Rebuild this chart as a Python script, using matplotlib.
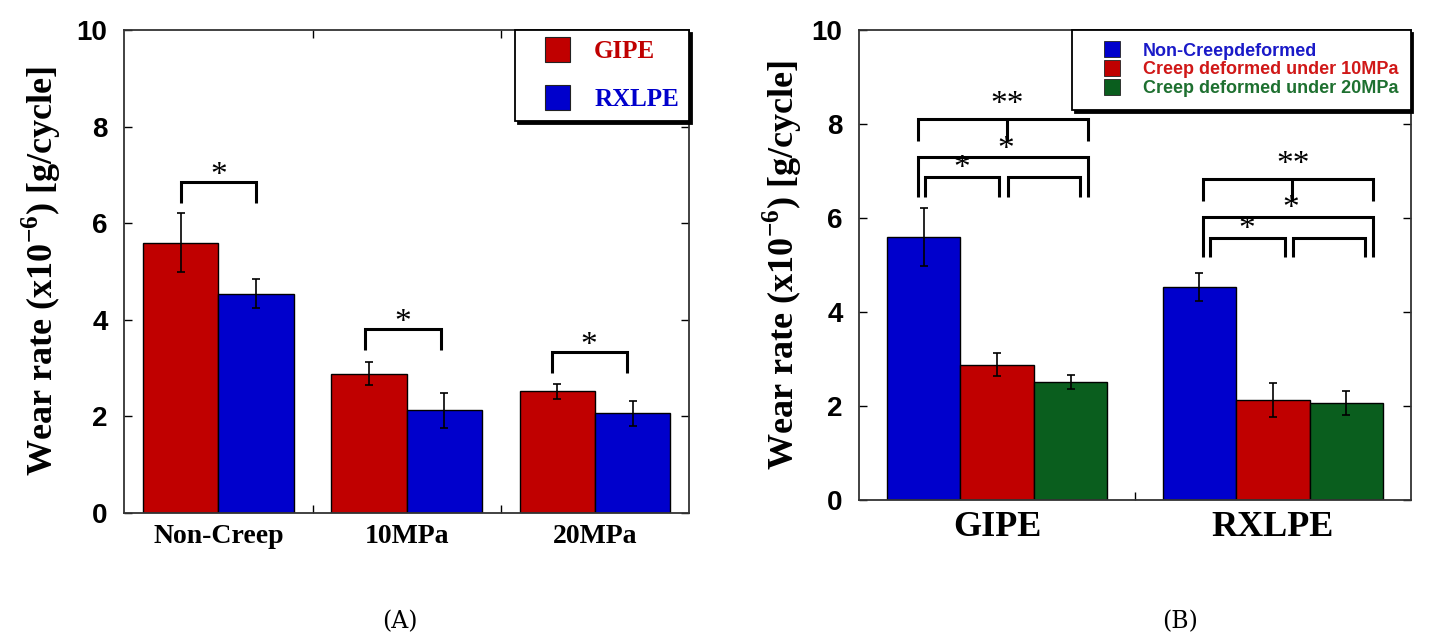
import matplotlib
matplotlib.use("Agg")
import matplotlib.pyplot as plt
from matplotlib.lines import Line2D
import numpy as np

# wear rate (x10^-6 g/cycle)
conditions = ["Non-Creep", "10MPa", "20MPa"]
materials = ["GIPE", "RXLPE"]
gipe = [5.60, 2.88, 2.52]
gipe_err = [0.62, 0.24, 0.15]
rxlpe = [4.54, 2.13, 2.06]
rxlpe_err = [0.30, 0.36, 0.25]

series_b = ["Non-Creepdeformed", "Creep deformed under 10MPa", "Creep deformed under 20MPa"]

# significance brackets, panel A (bracket height, per condition)
sig_a_top = [6.86, 3.81, 3.34]
sig_a_shift = [0.0, -0.02, -0.03]
# panel B, per material: leg bottom, lower, middle, top bracket, top leg bottom
sig_b_base = [6.44, 5.16]
sig_b_low = [6.87, 5.58]
sig_b_mid = [7.29, 6.03]
sig_b_top = [8.11, 6.83]
sig_b_topleg = [7.64, 6.36]
sig_b_shift = [0.0, 0.035]

RED = "#C00000"
BLUE = "#0000CC"
GREEN = "#0A5E1E"

SERIF = "Liberation Serif"
SANS = "Liberation Sans"

plt.rcParams["mathtext.fontset"] = "custom"
plt.rcParams["mathtext.rm"] = "Liberation Serif"
plt.rcParams["mathtext.bf"] = "Liberation Serif:bold"

fig = plt.figure(figsize=(14.3, 6.43), dpi=100)
axA = fig.add_axes([0.0869, 0.2022, 0.3949, 0.7511])
axB = fig.add_axes([0.6009, 0.2224, 0.3856, 0.7309])

ylabel = r"Wear rate (x10$^{\mathbf{{-}6}}$) [g/cycle]"


def style_axes(ax, xmax, minor):
    ax.set_ylim(0, 10)
    ax.set_xlim(0, xmax)
    ax.set_yticks(np.arange(0, 11, 2))
    ax.set_xticks(minor, minor=True)
    ax.tick_params(axis="y", which="major", direction="in", length=6, width=1,
                   right=True, left=True, pad=12, labelsize=20)
    ax.tick_params(axis="x", which="major", length=0, pad=8)
    ax.tick_params(axis="x", which="minor", direction="in", length=6, width=1,
                   top=True, bottom=True)
    for lab in ax.get_yticklabels():
        lab.set_fontfamily(SANS)
        lab.set_fontweight("bold")
    for sp in ax.spines.values():
        sp.set_linewidth(1.3)
        sp.set_color("#333333")


def bracket(ax, x1, x2, y, ybot, lw=2.2):
    ax.plot([x1, x1, x2, x2], [ybot, y, y, ybot], color="black", lw=lw,
            solid_joinstyle="miter", solid_capstyle="butt", zorder=5)


def star(ax, x, y, s, size=24):
    ax.text(x, y, s, ha="center", va="center", fontsize=size, family=SERIF,
            zorder=6)


# ---------------- panel A ----------------
xa = np.arange(len(conditions)) + 0.5
w = 0.4
axA.bar(xa - w / 2, gipe, w, color=RED, edgecolor="black", lw=1, label="GIPE")
axA.bar(xa + w / 2, rxlpe, w, color=BLUE, edgecolor="black", lw=1, label="RXLPE")
axA.errorbar(xa - w / 2, gipe, yerr=gipe_err, fmt="none", ecolor="black",
             elinewidth=1.2, capsize=3, capthick=1.2)
axA.errorbar(xa + w / 2, rxlpe, yerr=rxlpe_err, fmt="none", ecolor="black",
             elinewidth=1.2, capsize=3, capthick=1.2)
style_axes(axA, 3, [1, 2])
axA.set_xticks(xa)
axA.set_xticklabels(conditions, fontfamily=SERIF, fontweight="bold", fontsize=20)
axA.set_ylabel(ylabel, fontfamily=SERIF, fontweight="bold", fontsize=26, va="center")
axA.yaxis.set_label_coords(-0.1475, 0.5)

for i in range(len(conditions)):
    x1 = xa[i] - w / 2 + sig_a_shift[i]
    x2 = xa[i] + w / 2 + sig_a_shift[i]
    bracket(axA, x1, x2, sig_a_top[i], sig_a_top[i] - 0.44)
    star(axA, (x1 + x2) / 2, sig_a_top[i] + 0.13, "*")

hA = [Line2D([], [], ls="none", marker="s", markersize=18, markerfacecolor=c,
             markeredgecolor="#222222", markeredgewidth=0.8) for c in (RED, BLUE)]
legA = axA.legend(hA, materials, loc="upper right", bbox_to_anchor=(1, 1),
                  borderaxespad=0, fancybox=False, edgecolor="black",
                  framealpha=1, shadow={"color": "black", "alpha": 1},
                  prop={"family": SERIF, "weight": "bold", "size": 18},
                  handlelength=2.5, handletextpad=0.25, labelspacing=1.0,
                  borderpad=0.4)
legA.get_frame().set_linewidth(1.3)
for t, c in zip(legA.get_texts(), (RED, BLUE)):
    t.set_color(c)

# ---------------- panel B ----------------
xb = np.arange(len(materials)) + 0.5
wb = 0.8 / 3
vals_b = [[gipe[k], rxlpe[k]] for k in range(3)]
errs_b = [[gipe_err[k], rxlpe_err[k]] for k in range(3)]
cols_b = [BLUE, RED, GREEN]
for k in range(3):
    pos = xb + (k - 1) * wb
    axB.bar(pos, vals_b[k], wb, color=cols_b[k], edgecolor="black", lw=1,
            label=series_b[k])
    axB.errorbar(pos, vals_b[k], yerr=errs_b[k], fmt="none", ecolor="black",
                 elinewidth=1.2, capsize=3, capthick=1.2)
style_axes(axB, 2, [1])
axB.set_xticks(xb)
axB.set_xticklabels(materials, fontfamily=SERIF, fontweight="bold", fontsize=26)
axB.set_ylabel(ylabel, fontfamily=SERIF, fontweight="bold", fontsize=26, va="center")
axB.yaxis.set_label_coords(-0.140, 0.5)

for g in range(len(materials)):
    s = sig_b_shift[g]
    c0 = xb[g] - wb + s
    c1 = xb[g] + s
    c2 = xb[g] + wb + s
    outL, outR = c0 - 0.02, c2 + 0.063
    # lower pair
    bracket(axB, c0 + 0.005, c1 + 0.008, sig_b_low[g], sig_b_base[g])
    bracket(axB, c1 + 0.038, c2 + 0.033, sig_b_low[g], sig_b_base[g])
    star(axB, (c0 + c1) / 2 + 0.005, sig_b_low[g] + 0.18, "*")
    # middle
    bracket(axB, outL, outR, sig_b_mid[g], sig_b_base[g])
    star(axB, c1 + 0.03, sig_b_mid[g] + 0.17, "*")
    # top with stem
    bracket(axB, outL, outR, sig_b_top[g], sig_b_topleg[g])
    axB.plot([c1 + 0.035, c1 + 0.035], [sig_b_top[g], sig_b_topleg[g]],
             color="black", lw=2.2, solid_capstyle="butt", zorder=5)
    star(axB, c1 + 0.038, sig_b_top[g] + 0.3, "**")

hB = [Line2D([], [], ls="none", marker="s", markersize=11, markerfacecolor=c,
             markeredgecolor="#222222", markeredgewidth=0.6) for c in cols_b]
legB = axB.legend(hB, series_b, loc="upper right", bbox_to_anchor=(1, 1),
                  borderaxespad=0, fancybox=False, edgecolor="black",
                  framealpha=1, shadow={"color": "black", "alpha": 1},
                  prop={"family": SANS, "weight": "bold", "size": 13},
                  handlelength=3.0, handletextpad=0.2, labelspacing=0.1,
                  borderpad=0.7)
legB.get_frame().set_linewidth(1.3)
for t, c in zip(legB.get_texts(), ("#1A1AC8", "#D01818", "#1E7030")):
    t.set_color(c)

fig.text(400 / 1430, 1 - 622 / 643, "(A)", ha="center", va="center",
         fontsize=17, family="DejaVu Serif")
fig.text(1180 / 1430, 1 - 622 / 643, "(B)", ha="center", va="center",
         fontsize=17, family="DejaVu Serif")

fig.savefig("out.png", dpi=100)
